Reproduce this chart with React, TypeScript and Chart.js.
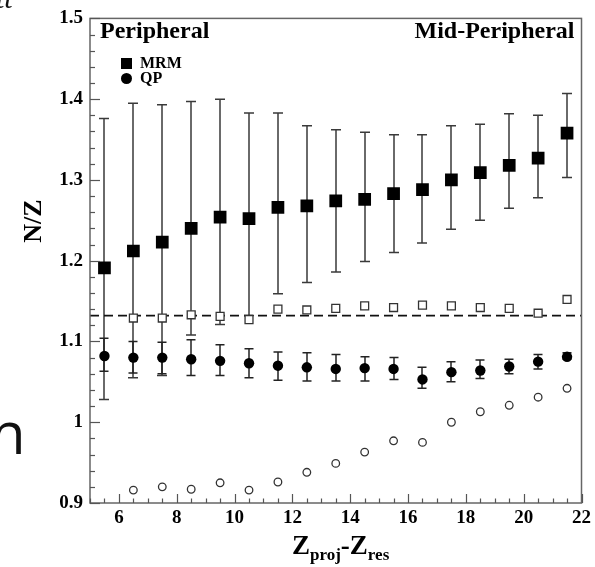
import React, { useEffect, useRef } from "react";
import { Chart, registerables } from "chart.js";

Chart.register(...registerables);

// ---- data ----
const xPositions = [5.5, 6.5, 7.5, 8.5, 9.5, 10.5, 11.5, 12.5, 13.5, 14.5, 15.5, 16.5, 17.5, 18.5, 19.5, 20.5, 21.5];

const mrmValues = [1.191, 1.212, 1.223, 1.240, 1.254, 1.252, 1.266, 1.268, 1.274, 1.276, 1.283, 1.288, 1.300, 1.309, 1.318, 1.327, 1.358];
const mrmUpper = [1.376, 1.395, 1.393, 1.397, 1.400, 1.383, 1.383, 1.367, 1.362, 1.359, 1.356, 1.356, 1.367, 1.369, 1.382, 1.380, 1.407];
const mrmLower = [1.028, 1.055, 1.058, 1.108, 1.121, 1.132, 1.159, 1.173, 1.186, 1.199, 1.210, 1.222, 1.239, 1.250, 1.265, 1.278, 1.303];

const qpValues = [1.082, 1.080, 1.080, 1.078, 1.076, 1.073, 1.070, 1.068, 1.066, 1.067, 1.066, 1.053, 1.062, 1.064, 1.069, 1.075, 1.081];
const qpUpper = [1.104, 1.100, 1.099, 1.102, 1.096, 1.091, 1.087, 1.086, 1.084, 1.081, 1.080, 1.068, 1.075, 1.077, 1.078, 1.084, 1.086];
const qpLower = [1.063, 1.061, 1.060, 1.058, 1.058, 1.055, 1.052, 1.051, 1.051, 1.051, 1.053, 1.042, 1.050, 1.054, 1.060, 1.066, 1.078];

const openXPositions = [6.5, 7.5, 8.5, 9.5, 10.5, 11.5, 12.5, 13.5, 14.5, 15.5, 16.5, 17.5, 18.5, 19.5, 20.5, 21.5];
const openSquareValues = [1.129, 1.129, 1.133, 1.131, 1.127, 1.140, 1.139, 1.141, 1.144, 1.142, 1.145, 1.144, 1.142, 1.141, 1.135, 1.152];
const openCircleValues = [0.916, 0.920, 0.917, 0.925, 0.916, 0.926, 0.938, 0.949, 0.963, 0.977, 0.975, 1.000, 1.013, 1.021, 1.031, 1.042];

const referenceLevel = 1.132;
const referenceSpan = [5, 22];

const xTickValues = [6, 8, 10, 12, 14, 16, 18, 20, 22];
const yTickValues = [0.9, 1.0, 1.1, 1.2, 1.3, 1.4, 1.5];
const xMinorStep = 0.5;
const yMinorStep = 0.02;

const SERIF = "'Liberation Serif', 'Times New Roman', serif";

const errorBarPlugin = {
  id: "errorBars",
  beforeDatasetsDraw(chart: any) {
    const { ctx, scales } = chart;
    const xs = scales.x;
    const ys = scales.y;
    ctx.save();
    chart.data.datasets.forEach((ds: any) => {
      if (!ds.errHi) return;
      ctx.strokeStyle = ds.errColor || "#444";
      ctx.lineWidth = 1.5;
      const cap = ds.capHalf || 4.5;
      ds.data.forEach((p: any, i: number) => {
        const px = Math.round(xs.getPixelForValue(p.x));
        const yh = ys.getPixelForValue(ds.errHi[i]);
        const yl = ys.getPixelForValue(ds.errLo[i]);
        ctx.beginPath();
        ctx.moveTo(px, yh);
        ctx.lineTo(px, yl);
        ctx.moveTo(px - cap, yh);
        ctx.lineTo(px + cap, yh);
        ctx.moveTo(px - cap, yl);
        ctx.lineTo(px + cap, yl);
        ctx.stroke();
      });
    });
    ctx.restore();
  },
};

const decorPlugin = {
  id: "decor",
  afterDraw(chart: any) {
    const { ctx, chartArea, scales } = chart;
    const xs = scales.x;
    const ys = scales.y;
    const { left, right, top, bottom } = chartArea;
    ctx.save();
    // frame
    ctx.strokeStyle = "#666";
    ctx.lineWidth = 1.5;
    ctx.strokeRect(left, top, right - left, bottom - top);

    // y ticks (inward)
    ctx.strokeStyle = "#555";
    ctx.lineWidth = 1.2;
    const yMin = ys.min;
    const yMax = ys.max;
    const nY = Math.round((yMax - yMin) / yMinorStep);
    for (let k = 0; k <= nY; k++) {
      const v = yMin + k * yMinorStep;
      const major = k % 5 === 0;
      const py = Math.round(ys.getPixelForValue(v)) + 0.5;
      ctx.beginPath();
      ctx.moveTo(left, py);
      ctx.lineTo(left + (major ? 10 : 5), py);
      ctx.stroke();
    }
    // x ticks (inward)
    const xMin = xs.min;
    const xMax = xs.max;
    const nX = Math.round((xMax - xMin) / xMinorStep);
    for (let k = 0; k <= nX; k++) {
      const v = xMin + k * xMinorStep;
      const major = Math.abs(v % 2) < 1e-6;
      const px = Math.round(xs.getPixelForValue(v)) + 0.5;
      ctx.beginPath();
      ctx.moveTo(px, bottom);
      ctx.lineTo(px, bottom - (major ? 9 : 4.5));
      ctx.stroke();
    }

    ctx.fillStyle = "#000";
    ctx.textBaseline = "alphabetic";
    // panel labels
    ctx.font = `bold 24px ${SERIF}`;
    ctx.textAlign = "left";
    ctx.fillText("Peripheral", left + 10, 38);
    ctx.textAlign = "right";
    ctx.fillText("Mid-Peripheral", right - 7, 38);

    // legend
    ctx.textAlign = "left";
    ctx.fillRect(121, 58, 11, 11);
    ctx.beginPath();
    ctx.arc(126.5, 78.5, 5.5, 0, Math.PI * 2);
    ctx.fill();
    ctx.font = `bold 16px ${SERIF}`;
    ctx.fillText("MRM", 140, 68);
    ctx.fillText("QP", 140, 83);

    // y title
    ctx.save();
    ctx.translate(41, 221);
    ctx.rotate(-Math.PI / 2);
    ctx.textAlign = "center";
    ctx.font = `bold 26px ${SERIF}`;
    ctx.fillText("N/Z", 0, 0);
    ctx.restore();

    // x title with subscripts
    const big = `bold 27px ${SERIF}`;
    const small = `bold 17px ${SERIF}`;
    const parts: [string, string, number][] = [
      ["Z", big, 0],
      ["proj", small, 6],
      ["-Z", big, 0],
      ["res", small, 6],
    ];
    let cx = 292;
    const base = 554;
    ctx.textAlign = "left";
    parts.forEach(([t, f, dy]) => {
      ctx.font = f;
      ctx.fillText(t, cx, base + dy);
      cx += ctx.measureText(t).width;
    });
    ctx.restore();
  },
};

export default function App() {
  const canvasRef = useRef<HTMLCanvasElement | null>(null);

  useEffect(() => {
    const canvas = canvasRef.current;
    if (!canvas) return;
    const tickFont = { family: SERIF, size: 19, weight: "bold" as const };
    const chart = new Chart(canvas, {
      type: "scatter",
      data: {
        datasets: [
          {
            label: "MRM",
            data: xPositions.map((x, i) => ({ x, y: mrmValues[i] })),
            pointStyle: "rect",
            pointRadius: 9,
            backgroundColor: "#000",
            borderWidth: 0,
            errHi: mrmUpper,
            errLo: mrmLower,
            capHalf: 5,
            errColor: "#3a3a3a",
            order: 1,
          } as any,
          {
            label: "QP",
            data: xPositions.map((x, i) => ({ x, y: qpValues[i] })),
            pointStyle: "circle",
            pointRadius: 5.2,
            backgroundColor: "#000",
            borderWidth: 0,
            errHi: qpUpper,
            errLo: qpLower,
            capHalf: 4.5,
            errColor: "#222",
            order: 1,
          } as any,
          {
            label: "open squares",
            data: openXPositions.map((x, i) => ({ x, y: openSquareValues[i] })),
            pointStyle: "rect",
            pointRadius: 5.6,
            backgroundColor: "#fff",
            borderColor: "#333",
            borderWidth: 1.3,
            order: 2,
          },
          {
            label: "open circles",
            data: openXPositions.map((x, i) => ({ x, y: openCircleValues[i] })),
            pointStyle: "circle",
            pointRadius: 3.8,
            backgroundColor: "#fff",
            borderColor: "#333",
            borderWidth: 1.3,
            order: 2,
          },
          {
            type: "line",
            label: "reference",
            data: referenceSpan.map((x) => ({ x, y: referenceLevel })),
            borderColor: "#111",
            borderWidth: 1.6,
            borderDash: [9, 5],
            pointRadius: 0,
            fill: false,
            order: 3,
          } as any,
        ],
      },
      options: {
        responsive: false,
        animation: false,
        devicePixelRatio: 1,
        layout: { padding: { left: 0, right: 13, top: 13, bottom: 0 } },
        plugins: {
          legend: { display: false },
          tooltip: { enabled: false },
        },
        scales: {
          x: {
            type: "linear",
            min: 5,
            max: 22,
            grid: { display: false, drawTicks: false },
            border: { display: false },
            afterBuildTicks: (s: any) => {
              s.ticks = xTickValues.map((v) => ({ value: v }));
            },
            afterFit: (s: any) => {
              s.height = 64;
            },
            ticks: {
              padding: 4,
              color: "#000",
              font: tickFont,
              maxRotation: 0,
              autoSkip: false,
              callback: (v: any) => String(v),
            },
          },
          y: {
            type: "linear",
            min: 0.9,
            max: 1.5,
            grid: { display: false, drawTicks: false },
            border: { display: false },
            afterBuildTicks: (s: any) => {
              s.ticks = yTickValues.map((v) => ({ value: v }));
            },
            afterFit: (s: any) => {
              s.width = 90;
            },
            ticks: {
              padding: 7,
              color: "#000",
              font: tickFont,
              autoSkip: false,
              callback: (v: any) => String(Math.round(Number(v) * 10) / 10),
            },
          },
        },
      },
      plugins: [errorBarPlugin, decorPlugin],
    });
    return () => chart.destroy();
  }, []);

  return (
    <div style={{ position: "absolute", left: 0, top: 0, width: 595, height: 567, background: "#fff", overflow: "hidden" }}>
      <canvas ref={canvasRef} width={595} height={567} style={{ display: "block", width: 595, height: 567 }} />
      <div
        style={{
          position: "absolute",
          left: -4,
          top: -17,
          fontFamily: SERIF,
          fontStyle: "italic",
          fontSize: 30,
          lineHeight: "30px",
          color: "#111",
          whiteSpace: "nowrap",
        }}
      >
        tt
      </div>
      <div
        style={{
          position: "absolute",
          left: -10,
          top: 403,
          fontFamily: "'Open Sans', 'Noto Sans', sans-serif",
          fontSize: 58,
          lineHeight: "58px",
          color: "#111",
          whiteSpace: "nowrap",
        }}
      >
        n
      </div>
    </div>
  );
}
